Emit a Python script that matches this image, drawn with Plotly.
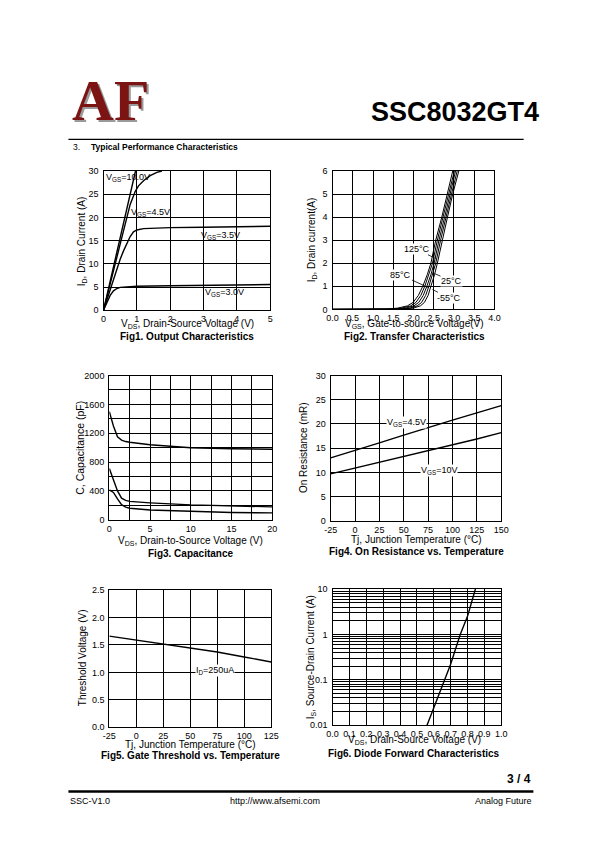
import plotly.graph_objects as go

W, H = 595, 842

# ---------------- data ----------------
# Fig1 Output characteristics
out_vds_10 = [0, 0.2, 0.5, 0.8, 0.96]
out_id_10 = [0, 6.2, 15.6, 25.0, 30.0]
out_vds_45 = [0, 0.2, 0.5, 0.8, 0.95, 1.05, 1.2, 1.4, 1.6, 1.75]
out_id_45 = [0, 5.8, 14.3, 22.8, 25.6, 26.8, 27.9, 29.0, 29.7, 30.0]
out_vds_35 = [0, 0.1, 0.2, 0.3, 0.4, 0.5, 0.6, 0.7, 0.8, 0.9, 1.0, 1.2, 1.5, 2, 3, 4, 5]
out_id_35 = [0, 2.2, 4.5, 6.8, 9.0, 11.0, 12.8, 14.5, 15.9, 16.9, 17.3, 17.6, 17.7, 17.8, 17.9, 18.0, 18.1]
out_vds_30 = [0, 0.1, 0.2, 0.3, 0.4, 0.5, 0.7, 1, 2, 3, 4, 5]
out_id_30 = [0, 1.8, 3.2, 4.2, 4.7, 4.95, 5.1, 5.2, 5.3, 5.4, 5.5, 5.55]

# Fig2 Transfer characteristics (shared current list, gate voltage per curve)
tr_id = [0, 0.01, 0.05, 0.15, 0.3, 0.6, 1, 1.5, 2, 3, 4, 5, 6.0]
tr_vgs_125 = [0, 1.30, 1.60, 1.85, 1.99, 2.12, 2.23, 2.34, 2.43, 2.55, 2.70, 2.84, 2.97]
tr_vgs_85 = [0, 1.40, 1.70, 1.93, 2.06, 2.18, 2.28, 2.38, 2.47, 2.59, 2.73, 2.87, 3.01]
tr_vgs_mid = [0, 1.50, 1.80, 2.01, 2.13, 2.24, 2.33, 2.43, 2.51, 2.63, 2.77, 2.90, 3.04]
tr_vgs_25 = [0, 1.60, 1.90, 2.09, 2.20, 2.30, 2.38, 2.47, 2.55, 2.67, 2.80, 2.94, 3.08]
tr_vgs_m55 = [0, 1.70, 1.99, 2.17, 2.27, 2.36, 2.43, 2.52, 2.59, 2.71, 2.84, 2.97, 3.12]

# Fig3 Capacitance
cap_vds = [0, 0.5, 1, 1.5, 2, 2.5, 5, 10, 15, 20]
cap_ciss = [1500, 1300, 1150, 1105, 1085, 1075, 1040, 1000, 985, 978]
cap_coss = [710, 560, 400, 300, 270, 255, 235, 207, 190, 180]
cap_crss = [415, 380, 290, 210, 175, 160, 137, 115, 102, 96]

# Fig4 On resistance vs temperature
ron_tj = [-25, 0, 25, 50, 75, 100, 125, 150]
ron_45 = [13.0, 14.5, 16.1, 17.7, 19.3, 20.8, 22.3, 23.8]
ron_10 = [9.7, 10.9, 12.0, 13.2, 14.4, 15.6, 16.9, 18.2]

# Fig5 Gate threshold vs temperature
vth_tj = [-25, 0, 25, 50, 75, 100, 125]
vth_v = [1.66, 1.59, 1.52, 1.45, 1.37, 1.28, 1.19]

# Fig6 Diode forward
dio_vsd = [0.56, 0.60, 0.664, 0.70, 0.757, 0.80, 0.847]
dio_is = [0.01, 0.025, 0.1, 0.22, 1.0, 2.5, 10.0]

# tick labels
f1_xt = [0, 1, 2, 3, 4, 5]
f1_yt = [0, 5, 10, 15, 20, 25, 30]
f2_xt = [0.0, 0.5, 1.0, 1.5, 2.0, 2.5, 3.0, 3.5, 4.0]
f2_yt = [0, 1, 2, 3, 4, 5, 6]
f3_xt = [0, 5, 10, 15, 20]
f3_xm = [2.5, 7.5, 12.5, 17.5]
f3_yt = [0, 400, 800, 1200, 1600, 2000]
f3_ym = [200, 600, 1000, 1400, 1800]
f4_xt = [-25, 0, 25, 50, 75, 100, 125, 150]
f4_yt = [0, 5, 10, 15, 20, 25, 30]
f5_xt = [-25, 0, 25, 50, 75, 100, 125]
f5_yt = [0.0, 0.5, 1.0, 1.5, 2.0, 2.5]
f6_xt = [0.0, 0.1, 0.2, 0.3, 0.4, 0.5, 0.6, 0.7, 0.8, 0.9, 1.0]
f6_yt = [0.01, 0.1, 1, 10]
f6_ym = [m * d for d in (0.01, 0.1, 1) for m in range(2, 10)]

FONT = "Liberation Sans Narrow, Arial Narrow, Liberation Sans, Arial, sans-serif"
SANS = "Liberation Sans, Arial, sans-serif"

# plot boxes in pixels (left, right, top, bottom)
boxes = {
    1: (99, 270, 168, 309),
    2: (334, 500, 168, 308),
    3: (105, 272, 375, 521),
    4: (332, 507, 375, 522),
    5: (105, 271, 592, 731),
    6: (334, 507, 591, 729),
}

def px(x):
    return x / W

def py(y):
    return 1 - y / H

fig = go.Figure()

def add(xs, ys, n, width=1.4):
    fig.add_trace(go.Scatter(x=xs, y=ys, mode="lines", line=dict(color="black", width=width),
                             xaxis="x" if n == 1 else f"x{n}", yaxis="y" if n == 1 else f"y{n}",
                             showlegend=False, hoverinfo="skip"))

add(out_vds_10, out_id_10, 1)
add(out_vds_45, out_id_45, 1)
add(out_vds_35, out_id_35, 1)
add(out_vds_30, out_id_30, 1)
for v in (tr_vgs_125, tr_vgs_85, tr_vgs_mid, tr_vgs_25, tr_vgs_m55):
    add(v, tr_id, 2, 1.0)
add(cap_vds, cap_ciss, 3)
add(cap_vds, cap_coss, 3)
add(cap_vds, cap_crss, 3)
add(ron_tj, ron_45, 4)
add(ron_tj, ron_10, 4)
add(vth_tj, vth_v, 5)
add(dio_vsd, dio_is, 6)

layout = dict(width=W, height=H, margin=dict(l=0, r=0, t=0, b=0),
              paper_bgcolor="white", plot_bgcolor="white", showlegend=False,
              font=dict(family=FONT, size=9, color="black"))

def axis(n, rng, tv, minor=None, log=False, yaxis=False, ticktext=None):
    l, r, t, b = boxes[n]
    d = dict(range=rng, tickvals=tv, showline=True, linecolor="black", linewidth=1.3, mirror=True,
             showgrid=True, gridcolor="black", gridwidth=0.9, zeroline=False, ticks="",
             tickfont=dict(family=FONT, size=9, color="black"), fixedrange=True, layer="below traces")
    if ticktext is not None:
        d["ticktext"] = ticktext
    if log:
        d["type"] = "log"
    if minor is not None:
        d["minor"] = dict(tickvals=minor, showgrid=True, gridcolor="black", gridwidth=0.9, ticks="")
    if yaxis:
        d["domain"] = [py(b), py(t)]
        d["anchor"] = "x" if n == 1 else f"x{n}"
        d["ticklabelstandoff"] = 2
    else:
        d["domain"] = [px(l), px(r)]
        d["anchor"] = "y" if n == 1 else f"y{n}"
        d["ticklabelstandoff"] = 0
    return d

def fmt1(v):
    return [f"{x:.1f}" for x in v]

def fmti(v):
    return [str(x) for x in v]

layout["xaxis"] = axis(1, [0, 5], f1_xt)
layout["yaxis"] = axis(1, [0, 30], f1_yt, yaxis=True)
layout["xaxis2"] = axis(2, [0, 4], f2_xt, ticktext=fmt1(f2_xt))
layout["yaxis2"] = axis(2, [0, 6], f2_yt, yaxis=True)
layout["xaxis3"] = axis(3, [0, 20], f3_xt, minor=f3_xm)
layout["yaxis3"] = axis(3, [0, 2000], f3_yt, minor=f3_ym, yaxis=True)
layout["xaxis4"] = axis(4, [-25, 150], f4_xt, ticktext=fmti(f4_xt))
layout["yaxis4"] = axis(4, [0, 30], f4_yt, yaxis=True)
layout["xaxis5"] = axis(5, [-25, 125], f5_xt, ticktext=fmti(f5_xt))
layout["yaxis5"] = axis(5, [0, 2.5], f5_yt, yaxis=True, ticktext=fmt1(f5_yt))
layout["xaxis6"] = axis(6, [0, 1], f6_xt, ticktext=fmt1(f6_xt))
layout["yaxis6"] = axis(6, [-2, 1], f6_yt, minor=f6_ym, log=True, yaxis=True,
                        ticktext=["0.01", "0.1", "1", "10"])
fig.update_layout(**layout)

ann = []

def txt(x, y, s, size=9, bold=False, xanchor="center", yanchor="middle", family=FONT, angle=0, color="black"):
    if bold:
        s = f"<b>{s}</b>"
    ann.append(dict(x=px(x), y=py(y), xref="paper", yref="paper", text=s, showarrow=False,
                    xanchor=xanchor, yanchor=yanchor, textangle=angle,
                    font=dict(family=family, size=size, color=color)))

def dlabel(n, x, y, s, xanchor="center", bg="white", size=9):
    ann.append(dict(x=x, y=y, xref="x" if n == 1 else f"x{n}", yref="y" if n == 1 else f"y{n}",
                    text=s, showarrow=False, xanchor=xanchor, bgcolor=bg, borderpad=0,
                    font=dict(family=FONT, size=size, color="black")))

def leader(n, x, y, ax, ay, s):
    ann.append(dict(x=x, y=y, ax=ax, ay=ay, xref=f"x{n}", yref=f"y{n}", axref=f"x{n}", ayref=f"y{n}",
                    text=s, showarrow=True, arrowhead=0, arrowwidth=0.8, arrowcolor="black",
                    bgcolor="white", borderpad=0, font=dict(family=FONT, size=9, color="black")))

# header
txt(108, 99, "AF", size=58, family="Liberation Serif, serif", bold=True, color="#9a9a9a")
txt(106, 97, "AF", size=58, family="Liberation Serif, serif", bold=True, color="#7d1414")
txt(548, 108, "SSC8032GT4", size=27, bold=True, xanchor="right", family=SANS)
txt(66, 144, "3.", size=8.5, xanchor="left", family=SANS)
txt(84, 144, "Typical Performance Characteristics", size=8.5, bold=True, xanchor="left", family=SANS)

# footer
txt(540, 783, "3 / 4", size=12, bold=True, xanchor="right", family=SANS)
txt(63, 806, "SSC-V1.0", size=9, xanchor="left", family=SANS)
txt(275, 806, "http://www.afsemi.com", size=9, family=SANS)
txt(541, 806, "Analog Future", size=9, xanchor="right", family=SANS)

# fig1 texts
dlabel(1, 0.03, 28.6, "V<sub>GS</sub>=10.0V", xanchor="left", bg="rgba(0,0,0,0)")
dlabel(1, 0.8, 21.0, "V<sub>GS</sub>=4.5V", xanchor="left", bg="rgba(0,0,0,0)")
dlabel(1, 2.9, 16.2, "V<sub>GS</sub>=3.5V", xanchor="left", bg="rgba(0,0,0,0)")
dlabel(1, 3.0, 3.9, "V<sub>GS</sub>=3.0V", xanchor="left", bg="rgba(0,0,0,0)")
txt(77, 239, "I<sub>D</sub>, Drain Current (A)", size=10, angle=-90)
txt(185, 323, "V<sub>DS</sub>, Drain-Source Voltage (V)", size=10)
txt(185, 335, "Fig1. Output Characteristics", size=10, bold=True)

# fig2 texts
leader(2, 2.55, 2.2, 2.09, 2.61, "125°C")
leader(2, 2.36, 0.95, 1.69, 1.49, "85°C")
leader(2, 2.52, 1.55, 2.94, 1.24, "25°C")
leader(2, 2.47, 0.86, 2.87, 0.5, "-55°C")
txt(313, 238, "I<sub>D</sub>, Drain current(A)", size=10, angle=-90)
txt(418, 323, "V<sub>GS</sub>, Gate-to-source Voltage(V)", size=10)
txt(418, 335, "Fig2. Transfer Characteristics", size=10, bold=True)

# fig3 texts
txt(75, 448, "C, Capacitance (pF)", size=10.5, angle=-90)
txt(188, 542, "V<sub>DS</sub>, Drain-to-Source Voltage (V)", size=10)
txt(188, 555, "Fig3. Capacitance", size=10, bold=True)

# fig4 texts
dlabel(4, 53, 20.2, "V<sub>GS</sub>=4.5V")
dlabel(4, 86, 10.4, "V<sub>GS</sub>=10V")
txt(304, 448, "On Resistance (mR)", size=10, angle=-90)
txt(420, 541, "Tj, Junction Temperature (°C)", size=10)
txt(420, 553, "Fig4. On Resistance vs. Temperature", size=10, bold=True)

# fig5 texts
dlabel(5, 73, 1.04, "I<sub>D</sub>=250uA")
txt(77, 661, "Threshold Voltage (V)", size=10, angle=-90)
txt(188, 748, "Tj, Junction Temperature (°C)", size=10)
txt(188, 760, "Fig5. Gate Threshold vs. Temperature", size=10, bold=True)

# fig6 texts
txt(312, 660, "I<sub>S</sub>, Source-Drain Current (A)", size=10, angle=-90)
txt(418, 744, "V<sub>DS</sub>, Drain-Source Voltage (V)", size=10)
txt(418, 757, "Fig6. Diode Forward Characteristics", size=10, bold=True)

shapes = [
    dict(type="line", xref="paper", yref="paper", x0=px(63), x1=px(530), y0=py(136), y1=py(136),
         line=dict(color="black", width=1.2)),
    dict(type="line", xref="paper", yref="paper", x0=px(63), x1=px(540), y0=py(796), y1=py(796),
         line=dict(color="black", width=2.5)),
]

fig.update_layout(annotations=ann, shapes=shapes)
fig.write_html("out.html", config={"displayModeBar": False},
               post_script="document.body.style.margin='0';document.body.style.overflow='hidden';")
